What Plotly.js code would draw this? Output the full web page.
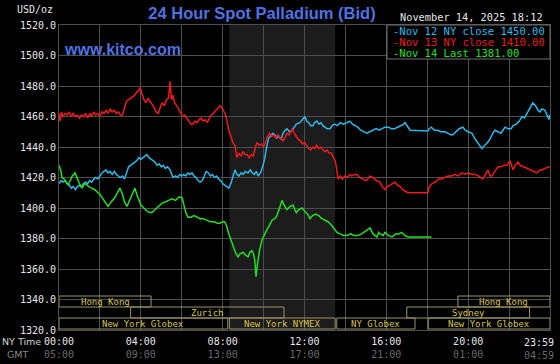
<!DOCTYPE html>
<html>
<head>
<meta charset="utf-8">
<script src="https://cdn.plot.ly/plotly-3.0.1.min.js"></script>
<style>html,body{margin:0;padding:0;background:#000;}#chart{width:560px;height:364px;}</style>
</head>
<body>
<div id="chart"></div>
<script>
// ---------- DATA ----------
const chartTitle = "24 Hour Spot Palladium (Bid)";
const siteLabel = "www.kitco.com";
const stampLabel = "November 14, 2025 18:12";
const unitLabel = "USD/oz";

const seriesNames = ["Nov 12 NY close 1450.00", "Nov 13 NY close 1410.00", "Nov 14 Last 1381.00"];

// hours since 00:00 NY time
const nov12Hours = [0,0.1,0.2,0.3,0.4,0.5,0.6,0.7,0.8,0.9,1.0,1.1,1.2,1.3,1.4,1.5,1.6,1.7,1.8,1.9,2.0,2.1,2.2,2.3,2.4,2.5,2.6,2.7,2.8,2.9,3.0,3.1,3.2,3.3,3.4,3.5,3.6,3.7,3.8,3.9,4.0,4.1,4.2,4.3,4.4,4.5,4.6,4.7,4.8,4.9,5.0,5.1,5.2,5.3,5.43,5.5,5.57,5.7,5.8,5.9,6.0,6.1,6.2,6.3,6.4,6.5,6.6,6.7,6.8,6.9,7.0,7.1,7.2,7.3,7.4,7.5,7.6,7.7,7.8,7.9,8.0,8.1,8.2,8.3,8.4,8.5,8.6,8.7,8.8,8.9,9.0,9.1,9.24,9.35,9.45,9.55,9.65,9.73,9.85,9.95,10.05,10.15,10.25,10.35,10.45,10.55,10.65,10.75,10.85,10.95,11.05,11.15,11.25,11.4,11.5,11.6,11.78,11.9,12.02,12.1,12.2,12.3,12.41,12.5,12.6,12.7,12.8,12.9,13.0,13.1,13.25,13.35,13.45,13.6,13.75,13.9,14.08,14.2,14.35,14.5,14.6,14.75,14.9,15.05,15.2,15.35,15.5,15.65,15.8,15.93,16.1,16.25,16.4,16.55,16.7,16.85,16.91,17.0,17.16,18.03,18.1,18.2,18.35,18.5,18.65,18.87,19.0,19.15,19.26,19.4,19.55,19.75,19.85,20.0,20.19,20.3,20.45,20.57,20.67,20.8,20.95,21.1,21.2,21.31,21.45,21.6,21.7,21.8,21.95,22.1,22.2,22.35,22.5,22.63,22.75,22.9,23.05,23.16,23.3,23.42,23.51,23.6,23.75,23.85,23.95,23.98];
const nov12Values = [1416,1418,1417,1418,1416,1415,1413,1414,1412,1414,1415,1414,1416,1417,1416,1418,1417,1419,1420,1419,1421,1423,1424,1425,1423,1424,1422,1424,1422,1421,1420,1421,1419,1423,1427,1428,1429,1430,1431,1433,1432,1433,1434,1435,1433,1432,1431,1430,1428,1429,1427,1428,1426,1427,1425,1422,1420,1421,1420,1422,1421,1422,1421,1423,1422,1423,1421,1420,1418,1417,1418,1421,1424,1423,1421,1422,1420,1421,1419,1418,1416,1415,1414,1413,1416,1421,1425,1422,1421,1423,1422,1424,1423,1425,1423,1422,1424,1421,1423,1427,1432,1440,1446,1447,1449,1448,1446,1447,1445,1449,1451,1452,1450,1451,1453,1455,1456,1458,1460,1457,1456,1454,1454,1456,1457,1455,1456,1454,1453,1452,1452,1454,1455,1454,1456,1455,1456,1457,1455,1454,1453,1451,1450,1449,1450,1451,1452,1451,1452,1453,1453,1452,1452,1453,1454,1455,1456,1454,1451,1450.5,1452,1453,1451,1451,1450,1450,1449,1448,1448,1450,1452,1453,1451,1450,1449,1446,1443,1441,1439,1441,1443,1446,1449,1451,1450,1449,1451,1453,1452,1452,1454,1455,1457,1460,1459,1463,1466,1469,1467,1464,1463,1465,1464,1461,1458,1461];

const nov13Hours = [0.00,0.05,0.12,0.2,0.3,0.4,0.5,0.6,0.7,0.8,0.9,1.0,1.1,1.2,1.3,1.4,1.5,1.6,1.7,1.8,1.9,2.0,2.1,2.2,2.3,2.4,2.5,2.6,2.7,2.8,2.9,3.0,3.1,3.2,3.3,3.4,3.5,3.6,3.7,3.8,3.9,3.96,4.05,4.15,4.25,4.35,4.45,4.55,4.65,4.75,4.85,4.95,5.05,5.15,5.25,5.35,5.43,5.5,5.57,5.65,5.75,5.85,5.95,6.05,6.15,6.25,6.35,6.45,6.55,6.65,6.75,6.85,6.95,7.05,7.15,7.25,7.35,7.45,7.55,7.65,7.75,7.85,7.95,8.05,8.12,8.2,8.3,8.4,8.5,8.6,8.7,8.8,8.9,9.0,9.1,9.2,9.3,9.4,9.5,9.6,9.68,9.8,9.9,10.0,10.1,10.2,10.3,10.4,10.5,10.6,10.7,10.8,10.95,11.05,11.15,11.25,11.39,11.5,11.6,11.7,11.8,11.9,12.0,12.1,12.2,12.3,12.4,12.5,12.6,12.7,12.8,12.9,13.0,13.1,13.2,13.3,13.4,13.5,13.58,13.64,13.75,13.85,13.98,14.1,14.2,14.3,14.45,14.56,14.7,14.85,15.0,15.1,15.2,15.35,15.5,15.69,15.8,15.93,16.05,16.18,16.3,16.42,16.55,16.67,16.8,16.91,17.05,17.25,18.03,18.1,18.23,18.4,18.55,18.7,18.87,19.0,19.2,19.35,19.5,19.7,19.85,20.0,20.19,20.35,20.5,20.62,20.72,20.85,20.97,21.07,21.16,21.3,21.46,21.6,21.75,21.9,22.04,22.12,22.19,22.3,22.43,22.55,22.7,22.92,23.05,23.2,23.36,23.5,23.61,23.75,23.9,23.98];
const nov13Values = [1462,1457,1463,1460,1462,1461,1463,1460,1462,1460,1461,1459,1461,1460,1462,1459,1462,1460,1463,1461,1462,1460,1463,1462,1464,1462,1465,1463,1464,1462,1463,1461,1461,1466,1470,1471,1472,1473,1474,1476,1477,1479,1475,1471,1469,1472,1470,1468,1466,1463,1462,1466,1469,1467,1471,1472,1483,1471,1474,1469,1467,1465,1462,1460,1461,1459,1457,1455,1455,1457,1456,1458,1459,1457,1458,1456,1459,1461,1462,1464,1465,1467,1466,1464,1462,1458,1451,1447,1443,1441,1433,1436,1434,1437,1435,1435,1433,1435,1434,1440,1443,1441,1442,1440,1444,1447,1449,1447,1448,1446,1448,1446,1444,1447,1449,1448,1452,1449,1447,1445,1444,1442,1443,1441,1439,1438,1440,1439,1441,1439,1440,1438,1437,1438,1436,1436,1433,1431,1425,1419,1421,1419,1421,1420,1422,1421,1422,1422,1420,1419,1418,1419,1421,1420,1418,1417,1414,1412,1414,1415,1416,1417,1415,1414,1412,1411,1410,1410,1410,1414,1416,1417,1419,1419,1420,1421,1421,1422,1421,1423,1422,1423,1422,1422,1421,1420,1419,1422,1425,1421,1421,1424,1427,1427,1428,1428,1431,1428,1425,1428,1430,1428,1427,1426,1425,1424,1423,1425,1425,1426,1427,1427];

const nov14Hours = [0,0.08,0.15,0.25,0.35,0.44,0.55,0.65,0.78,0.9,1.0,1.12,1.2,1.3,1.45,1.6,1.76,1.9,2.0,2.1,2.25,2.4,2.55,2.74,2.85,2.98,3.1,3.2,3.32,3.45,3.6,3.71,3.8,3.9,4.0,4.15,4.3,4.45,4.55,4.7,4.85,5.03,5.2,5.35,5.52,5.7,5.85,6.01,6.1,6.2,6.3,6.45,6.6,6.75,6.9,7.05,7.2,7.4,7.6,7.75,7.87,8.0,8.1,8.2,8.3,8.45,8.55,8.65,8.75,8.85,9.0,9.12,9.24,9.33,9.43,9.5,9.57,9.63,9.7,9.8,9.92,10.05,10.17,10.3,10.41,10.55,10.65,10.78,10.9,11.0,11.14,11.3,11.44,11.52,11.6,11.72,11.88,12.0,12.15,12.27,12.4,12.55,12.7,12.85,13.0,13.15,13.3,13.45,13.59,13.75,13.9,14.08,14.25,14.4,14.6,14.8,15.0,15.2,15.35,15.54,15.62,15.7,15.85,15.93,16.1,16.28,16.45,16.6,16.76,16.9,17.06,18.2];
const nov14Values = [1428,1425,1420,1419,1417,1415,1418,1421,1423,1419,1416,1413,1415,1416,1414,1413,1412,1410,1409,1407,1404,1401,1404,1407,1410,1413,1409,1404,1401,1405,1409,1413,1409,1405,1402,1400,1398,1397,1397,1399,1401,1403,1404,1405,1406,1405,1407,1407,1402,1397,1394,1394,1395,1394,1393,1393,1392,1391,1391,1390,1390,1391,1391,1388,1383,1377,1374,1370,1368,1370,1371,1369,1368,1371,1372,1370,1366,1355,1363,1372,1379,1383,1386,1389,1392,1393,1395,1400,1405,1402,1399,1401,1402,1399,1397,1399,1400,1398,1396,1393,1395,1396,1395,1393,1392,1391,1389,1386,1384,1383,1382,1382,1383,1382,1382,1383,1385,1387,1383,1381,1384,1383,1382,1384,1382,1381,1383,1383,1384,1382,1381,1381];

const seriesColors = ["#2db8ea", "#f01a1a", "#22e022"];

// NYMEX pit hours (shaded)
const nymexStart = 8.33;
const nymexEnd = 13.5;

// trading sessions
const sessionNames = ["Hong Kong", "Zurich", "New York Globex", "New York NYMEX", "NY Globex", "Sydney", "Hong Kong", "New York Globex"];
const sessionStart = [0, 3.5, 0, 8.33, 13.58, 17.0, 19.5, 18.05];
const sessionEnd   = [4.5, 11.0, 8.25, 13.5, 17.4, 23.0, 24, 24];
const sessionRow   = [0, 1, 2, 2, 2, 1, 0, 2];

// axis ticks
const yTicks = [1320, 1340, 1360, 1380, 1400, 1420, 1440, 1460, 1480, 1500, 1520];
const xTickHours = [0, 2, 4, 6, 8, 10, 12, 14, 16, 18, 20, 22, 23.983];
const nyTimeLabels = ["00:00", "", "04:00", "", "08:00", "", "12:00", "", "16:00", "", "20:00", "", "23:59"];
const gmtLabels    = ["05:00", "", "09:00", "", "13:00", "", "17:00", "", "21:00", "", "01:00", "", "04:59"];

// ---------- LAYOUT HELPERS ----------
const W = 560, H = 364, ML = 59, MR = 10, MT = 25, MB = 34;
const PW = W - ML - MR, PH = H - MT - MB;
const px = x => (x - ML) / PW;
const py = y => (H - MB - y) / PH;

const mono = "DejaVu Sans Mono";

const traces = [
  {x: nov12Hours, y: nov12Values, name: seriesNames[0], color: seriesColors[0]},
  {x: nov13Hours, y: nov13Values, name: seriesNames[1], color: seriesColors[1]},
  {x: nov14Hours, y: nov14Values, name: seriesNames[2], color: seriesColors[2]}
].map(s => ({x: s.x, y: s.y, name: s.name, type: 'scatter', mode: 'lines',
  line: {color: s.color, width: 1.5}, hoverinfo: 'skip'}));

const lastIdx = nyTimeLabels.length - 1;
const twoLine = (a, b) => a + "<br><span style='color:#6a6a6a'>" + b + "</span>";
// the last label sits at the right edge; it is drawn right-aligned as an annotation at that tick
const xTickText = nyTimeLabels.map((t, i) => (!t || i === lastIdx) ? "" : twoLine(t, gmtLabels[i]));

const rowTop = [296, 307, 318];
const rowH = 11;
const shapes = [
  {type: 'rect', xref: 'x', yref: 'paper', x0: nymexStart, x1: nymexEnd, y0: 0, y1: 1,
   fillcolor: '#1c1c1c', line: {width: 0}, layer: 'below'}
];
const annotations = [];
sessionNames.forEach((n, i) => {
  const t = rowTop[sessionRow[i]];
  shapes.push({type: 'rect', xref: 'x', yref: 'paper', x0: sessionStart[i], x1: sessionEnd[i],
    y0: py(t + rowH), y1: py(t), line: {color: '#9a9468', width: 1}, fillcolor: 'rgba(0,0,0,0)', layer: 'above'});
  annotations.push({xref: 'x', yref: 'paper', x: (sessionStart[i] + sessionEnd[i]) / 2, y: py(t + rowH / 2),
    text: n, showarrow: false, xanchor: 'center', yanchor: 'middle', height: 10,
    font: {family: mono, size: 9, color: '#d8c646'}});
});

// legend box
shapes.push({type: 'rect', xref: 'paper', yref: 'paper', x0: px(387), x1: 1, y0: py(59), y1: 1,
  fillcolor: '#000', line: {color: '#6e6e6e', width: 1}, layer: 'above'});
seriesNames.forEach((n, i) => {
  annotations.push({xref: 'paper', yref: 'paper', x: px(391), y: py(31 + i * 11),
    text: "-" + n, showarrow: false, xanchor: 'left', yanchor: 'middle', height: 10,
    font: {family: mono, size: 10.5, color: seriesColors[i]}});
});

annotations.push(
  {xref: 'x', yref: 'paper', x: xTickHours[lastIdx], y: py(335), xshift: 6,
   text: twoLine(nyTimeLabels[lastIdx], gmtLabels[lastIdx]), showarrow: false,
   xanchor: 'right', yanchor: 'top', align: 'right', font: {family: mono, size: 10, color: '#e6e6e6'}},
  {xref: 'paper', yref: 'paper', x: px(55), y: py(10), text: unitLabel, showarrow: false,
   xanchor: 'right', yanchor: 'middle', font: {family: mono, size: 10, color: '#e6e6e6'}},
  {xref: 'paper', yref: 'paper', x: px(62), y: py(49), text: "<b>" + siteLabel + "</b>", showarrow: false,
   xanchor: 'left', yanchor: 'middle', font: {family: 'Liberation Sans', size: 16, color: '#4f72e3'}},
  {xref: 'paper', yref: 'paper', x: px(398), y: py(17), text: stampLabel, showarrow: false,
   xanchor: 'left', yanchor: 'middle', font: {family: mono, size: 10.3, color: '#e6e6e6'}},
  {xref: 'paper', yref: 'paper', x: px(21), y: py(341), text: "NY Time", showarrow: false,
   xanchor: 'center', yanchor: 'middle', font: {family: 'DejaVu Sans', size: 9.5, color: '#d0d0d0'}},
  {xref: 'paper', yref: 'paper', x: px(18), y: py(354), text: "GMT", showarrow: false,
   xanchor: 'center', yanchor: 'middle', font: {family: 'DejaVu Sans', size: 9.5, color: '#8a8a8a'}}
);

const layout = {
  width: W, height: H,
  margin: {l: ML, r: MR, t: MT, b: MB, pad: 0},
  paper_bgcolor: '#000', plot_bgcolor: '#000',
  showlegend: false,
  font: {family: mono, size: 10, color: '#e6e6e6'},
  title: {text: "<b>" + chartTitle + "</b>", x: 262 / W, xanchor: 'center', y: 1 - 13 / H, yanchor: 'middle',
    font: {family: 'Liberation Sans', size: 16.5, color: '#4f72e3'}},
  xaxis: {range: [0, 24], tickmode: 'array', tickvals: xTickHours, ticktext: xTickText,
    showgrid: true, gridcolor: '#4e4e4e', gridwidth: 1, zeroline: false,
    showline: true, mirror: true, linecolor: '#4e4e4e', ticks: '', ticklabelstandoff: 2,
    tickfont: {family: mono, size: 10, color: '#e6e6e6'}, fixedrange: true},
  yaxis: {range: [1320, 1520], tickmode: 'array', tickvals: yTicks, ticktext: yTicks.map(v => v.toFixed(1)),
    showgrid: true, gridcolor: '#4e4e4e', gridwidth: 1, zeroline: false,
    showline: true, mirror: true, linecolor: '#4e4e4e', ticks: '',
    tickfont: {family: mono, size: 10, color: '#e6e6e6'}, fixedrange: true},
  shapes: shapes,
  annotations: annotations
};

Plotly.newPlot('chart', traces, layout, {staticPlot: true, displayModeBar: false});
</script>
</body>
</html>
